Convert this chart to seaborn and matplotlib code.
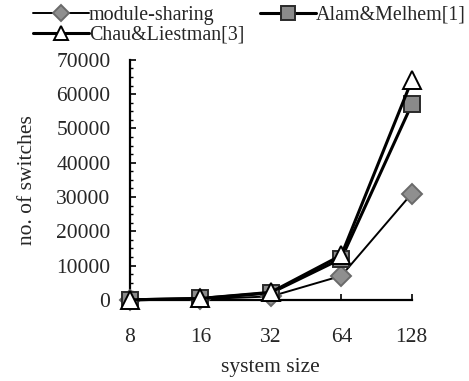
import pandas as pd
import matplotlib.pyplot as plt
import seaborn as sns

# data
sizes = ["8", "16", "32", "64", "128"]
module_sharing = [0, 200, 1000, 7000, 31000]
alam_melhem = [0, 400, 2000, 12000, 57000]
chau_liestman = [0, 400, 2200, 13000, 64000]

sns.set_theme(style="white")
plt.rcParams["font.family"] = ["Liberation Serif", "DejaVu Serif"]

fig = plt.figure(figsize=(4.69, 3.81), dpi=100)
ax = fig.add_axes([0.277, 0.213, 0.601, 0.63])

series = [
    ("module-sharing", module_sharing, "D", "#8f8f8f", "#6a6a6a", 1.4, 10),
    ("Alam&Melhem[1]", alam_melhem, "s", "#8a8a8a", "#2a2a2a", 2.2, 12),
    ("Chau&Liestman[3]", chau_liestman, "^", "white", "black", 2.2, 13),
]
for name, vals, mk, fc, ec, lw, ms in series:
    df = pd.DataFrame({"size": sizes, "switches": vals})
    sns.lineplot(data=df, x="size", y="switches", ax=ax, label=name,
                 color="black", linewidth=lw, marker=mk, markersize=ms,
                 markerfacecolor=fc, markeredgecolor=ec, markeredgewidth=1.4,
                 clip_on=False, zorder=3)

ax.set_xlim(0, 4)
ax.set_ylim(0, 70000)
ax.set_yticks(range(0, 70001, 10000))
ax.set_yticks(range(0, 70001, 2500), minor=True)
ax.set_xlabel("system size", fontsize=15.5, labelpad=8)
ax.set_ylabel("no. of switches", fontsize=15.5, labelpad=14)
ax.tick_params(axis="both", which="major", direction="in", labelsize=15.5,
               length=4, width=1.2, left=True, bottom=True, color="black")
ax.tick_params(axis="y", which="minor", direction="in", length=2, width=1,
               left=True, color="black")
ax.tick_params(axis="x", pad=20)
ax.tick_params(axis="y", pad=14)
sns.despine(ax=ax)
for sp in ["left", "bottom"]:
    ax.spines[sp].set_color("black")
    ax.spines[sp].set_linewidth(1.6)

# column-first legend: module-sharing / Chau in column 1, Alam in column 2
h, l = ax.get_legend_handles_labels()
order = [0, 2, 1]
ax.legend([h[i] for i in order], [l[i] for i in order],
          loc="upper left", bbox_to_anchor=(0.07, 0.985), bbox_transform=fig.transFigure,
          ncol=2, frameon=False, fontsize=14.4, handlelength=2.8, handletextpad=0.0,
          columnspacing=0.8, labelspacing=0.05, borderpad=0, borderaxespad=0,
          markerscale=0.8, handleheight=0.6)

fig.savefig("out.png", dpi=100)
